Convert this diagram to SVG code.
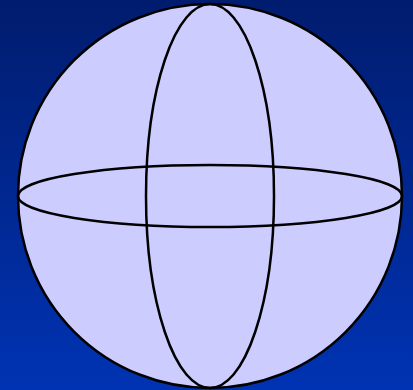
<svg xmlns="http://www.w3.org/2000/svg" width="413" height="390" viewBox="0 0 413 390">
<defs>
<linearGradient id="bg" x1="0" y1="0" x2="0" y2="1">
<stop offset="0" stop-color="#001c6e"/>
<stop offset="1" stop-color="#0033b3"/>
</linearGradient>
</defs>
<style>.s{fill:none;stroke:#000;stroke-width:2.5}</style>
<rect width="413" height="390" fill="url(#bg)"/>
<g id="sphere">
<circle cx="210" cy="196" r="192" fill="#ccccff" stroke="#000" stroke-width="2.5"/>
<ellipse class="s" cx="210" cy="196" rx="64" ry="192"/>
<ellipse class="s" cx="210" cy="196" rx="192" ry="31"/>
</g>
</svg>
